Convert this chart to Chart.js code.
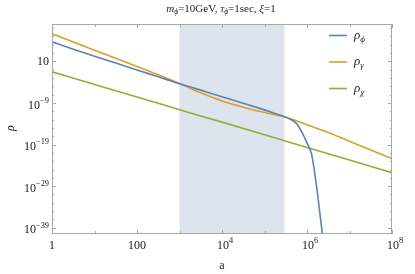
<!DOCTYPE html>
<html>
<head>
<meta charset="utf-8">
<script src="https://cdn.jsdelivr.net/npm/chart.js@4/dist/chart.umd.min.js"></script>
<style>
html,body{margin:0;padding:0;background:#fff;}
</style>
</head>
<body>
<canvas id="chart" width="415" height="274"></canvas>
<script>
// values are log10(a) and log10(rho)
var logA_phi   = [0, 0.5, 1, 1.5, 2, 2.5, 3, 3.5, 4, 4.5, 5, 5.25, 5.5, 5.75, 5.9, 6.0, 6.1, 6.15, 6.2, 6.25, 6.3, 6.36, 6.4];
var logRho_phi = [5.71, 3.95, 2.25, 0.6, -1.05, -2.7, -4.35, -5.9, -7.5, -9.05, -10.65, -11.5, -12.4, -13.9, -16.4, -18.6, -21.0, -23.7, -27.2, -31.0, -35.3, -40.6, -46];

var logA_gamma   = [0, 0.5, 1, 1.5, 2, 2.5, 3, 3.5, 4, 4.5, 5, 5.5, 6, 6.5, 7, 7.5, 8];
var logRho_gamma = [7.63, 5.65, 3.7, 1.75, -0.2, -2.2, -4.3, -6.55, -8.5, -10.0, -11.3, -12.4, -14.2, -16.1, -18.2, -20.3, -22.35];

var logA_chi   = [0, 1, 2, 3, 4, 5, 6, 7, 8];
var logRho_chi = [-1.5, -4.55, -7.55, -10.6, -13.6, -16.65, -19.7, -22.7, -25.75];

var seriesNames = ["\u03d5", "\u03b3", "\u03c7"];
var seriesColors = ["#5e81b5", "#e19c24", "#8fb032"];

var xTicks = [0, 2, 4, 6, 8];
var xTickLabels = [["1", ""], ["100", ""], ["10", "4"], ["10", "6"], ["10", "8"]];
var yTicks = [1, -9, -19, -29, -39];
var yTickLabels = [["10", ""], ["10", "\u22129"], ["10", "\u221219"], ["10", "\u221229"], ["10", "\u221239"]];

var band = [3, 5.47];

var serif = "'Liberation Serif', 'DejaVu Serif', serif";

function pts(xs, ys) {
	return xs.map(function(v, i) { return {x: v, y: ys[i]}; });
}

// draws a row of text pieces, each {t, it, sub, sup}
function rich(ctx, parts, x, y, size, align) {
	var w = 0;
	parts.forEach(function(p) {
		var s = (p.sub || p.sup) ? size * 0.7 : size;
		ctx.font = (p.it ? "italic " : "") + s + "px " + serif;
		p.w = ctx.measureText(p.t).width;
		w += p.w;
	});
	var cx = align == "center" ? x - w / 2 : (align == "right" ? x - w : x);
	ctx.textAlign = "left";
	ctx.textBaseline = "middle";
	parts.forEach(function(p) {
		var s = (p.sub || p.sup) ? size * 0.7 : size;
		ctx.font = (p.it ? "italic " : "") + s + "px " + serif;
		var dy = p.sub ? size * 0.3 : (p.sup ? -size * 0.4 : 0);
		ctx.fillText(p.t, cx, y + dy);
		cx += p.w;
	});
}

var bandPlugin = {
	id: "band",
	beforeDatasetsDraw: function(chart) {
		var ctx = chart.ctx, a = chart.chartArea, xs = chart.scales.x;
		var x1 = xs.getPixelForValue(band[0]), x2 = xs.getPixelForValue(band[1]);
		ctx.save();
		ctx.fillStyle = "#dee4ee";
		ctx.fillRect(x1, a.top, x2 - x1, a.bottom - a.top);
		ctx.restore();
	}
};

var framePlugin = {
	id: "frame",
	afterDatasetsDraw: function(chart) {
		var ctx = chart.ctx, a = chart.chartArea;
		var xs = chart.scales.x, ys = chart.scales.y;
		ctx.save();
		ctx.strokeStyle = "#a8a8a8";
		ctx.lineWidth = 1;
		ctx.strokeRect(a.left + 0.5, a.top + 0.5, a.right - a.left - 1, a.bottom - a.top - 1);
		ctx.beginPath();
		ctx.lineWidth = 1;
		for (var d = 0; d <= 8; d++) {
			var px = Math.round(xs.getPixelForValue(d)) + 0.5;
			var len = d % 2 == 0 ? 4 : 3;
			ctx.moveTo(px, a.bottom); ctx.lineTo(px, a.bottom - len);
			ctx.moveTo(px, a.top); ctx.lineTo(px, a.top + len);
		}
		for (var e = -40; e <= 9; e++) {
			var py = Math.round(ys.getPixelForValue(e)) + 0.5;
			var major = yTicks.indexOf(e) >= 0;
			if (!major && (e + 1) % 2 != 0) continue;
			var l = major ? 4 : 2;
			ctx.moveTo(a.left, py); ctx.lineTo(a.left + l, py);
			ctx.moveTo(a.right, py); ctx.lineTo(a.right - l, py);
		}
		ctx.stroke();

		ctx.fillStyle = "#222";
		xTicks.forEach(function(v, i) {
			var lab = xTickLabels[i];
			var parts = [{t: lab[0]}];
			if (lab[1]) parts.push({t: lab[1], sup: true});
			var px = xs.getPixelForValue(v);
			if (lab[1]) px += 3;
			rich(ctx, parts, px, 245.5, 12, "center");
		});
		yTicks.forEach(function(v, i) {
			var lab = yTickLabels[i];
			var parts = [{t: lab[0]}];
			if (lab[1]) parts.push({t: lab[1], sup: true});
			var py = ys.getPixelForValue(v) + (lab[1] ? 2.5 : 0);
			rich(ctx, parts, 49, py, 12, "right");
		});

		// title
		rich(ctx, [
			{t: "m", it: true}, {t: "\u03d5", it: true, sub: true}, {t: "=10GeV, "},
			{t: "\u03c4", it: true}, {t: "\u03d5", it: true, sub: true}, {t: "=1sec, "},
			{t: "\u03be", it: true}, {t: "=1"}
		], 221, 9, 11, "center");

		// axis titles
		rich(ctx, [{t: "a"}], 222, 265.5, 12, "center");
		ctx.save();
		ctx.translate(11, 128);
		ctx.rotate(-Math.PI / 2);
		rich(ctx, [{t: "\u03c1", it: true}], 0, 0, 12, "center");
		ctx.restore();

		// legend
		var ly = [35.5, 62, 88.5];
		chart.data.datasets.forEach(function(ds, i) {
			ctx.strokeStyle = ds.borderColor;
			ctx.lineWidth = 1.6;
			ctx.beginPath();
			ctx.moveTo(329, ly[i]); ctx.lineTo(347, ly[i]);
			ctx.stroke();
			ctx.fillStyle = "#222";
			rich(ctx, [{t: "\u03c1", it: true}, {t: seriesNames[i], it: true, sub: true}], 354, ly[i], 13, "left");
		});
		ctx.restore();
	}
};

new Chart(document.getElementById("chart"), {
	type: "line",
	data: {
		datasets: [
			{label: "rho_phi", data: pts(logA_phi, logRho_phi), borderColor: seriesColors[0]},
			{label: "rho_gamma", data: pts(logA_gamma, logRho_gamma), borderColor: seriesColors[1]},
			{label: "rho_chi", data: pts(logA_chi, logRho_chi), borderColor: seriesColors[2]}
		]
	},
	options: {
		responsive: false,
		animation: false,
		devicePixelRatio: 1,
		layout: {padding: {left: 52, top: 24, right: 23, bottom: 40}},
		elements: {
			point: {radius: 0},
			line: {borderWidth: 1.6, fill: false, cubicInterpolationMode: "monotone"}
		},
		scales: {
			x: {type: "linear", min: 0, max: 8, display: false},
			y: {type: "linear", min: -40.5, max: 10, display: false}
		},
		plugins: {legend: {display: false}, tooltip: {enabled: false}}
	},
	plugins: [bandPlugin, framePlugin]
});
</script>
</body>
</html>
